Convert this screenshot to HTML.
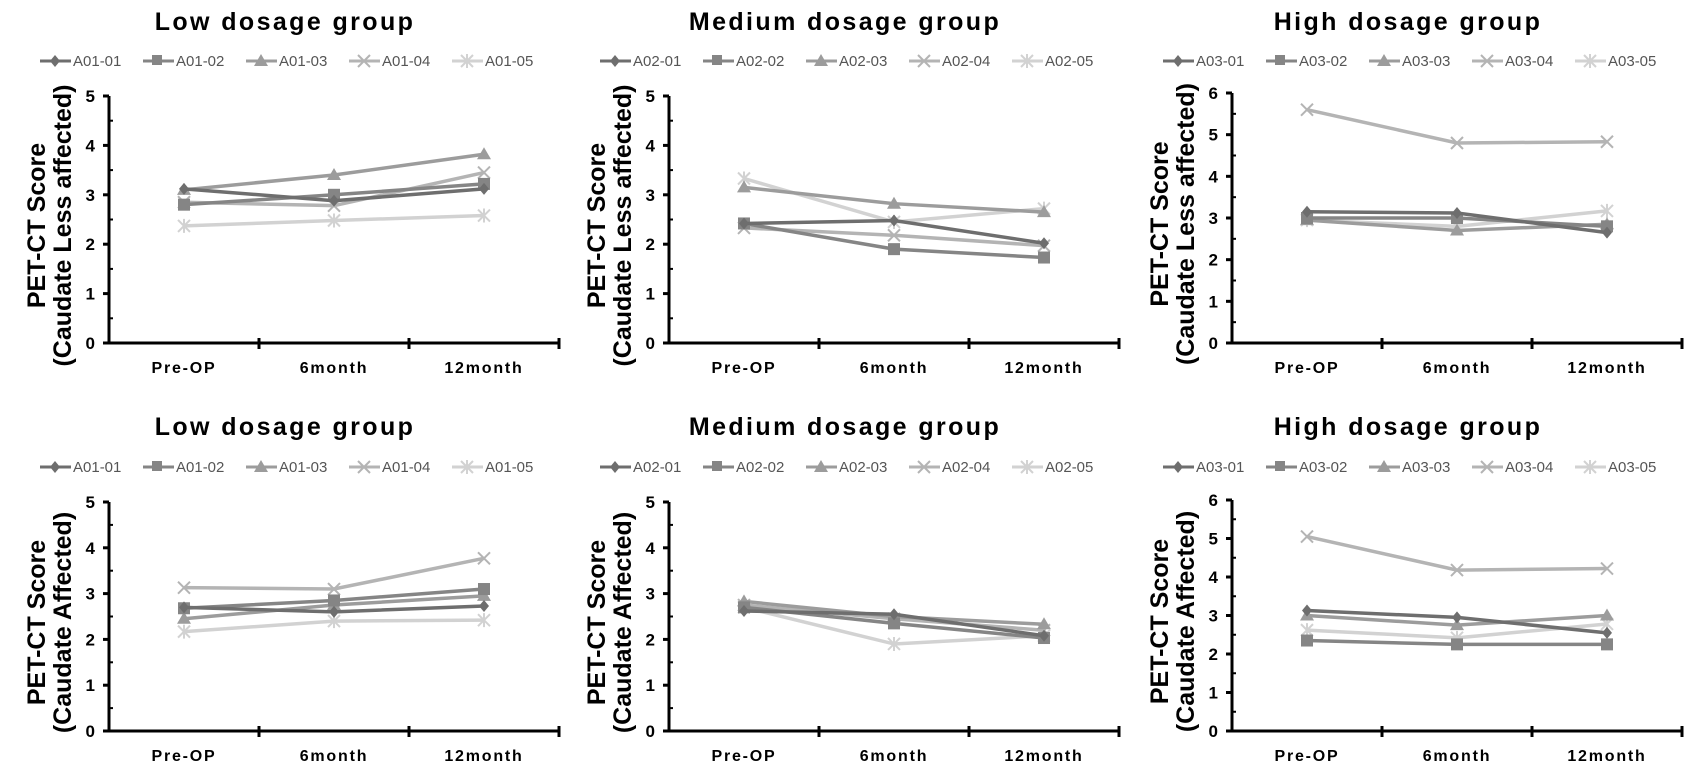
<!DOCTYPE html>
<html><head><meta charset="utf-8"><style>
html,body{margin:0;padding:0;background:#fff;}
svg{display:block;font-family:"Liberation Sans",Arial,sans-serif;}
</style></head><body>
<svg id="s" width="1691" height="781" xmlns="http://www.w3.org/2000/svg"></svg>
<script>
const cols=['#6e6e6e','#858585','#9c9c9c','#b4b4b4','#d2d2d2'];
const panels=[
 {ax:109,y0:343,ytop:96,max:5,title:'Low dosage group',pre:'A01',yl:'(Caudate Less affected)',ty:20,ly:61,
  d:[[3.12,2.88,3.12],[2.8,3.0,3.22],[3.1,3.4,3.82],[2.85,2.78,3.45],[2.37,2.48,2.58]]},
 {ax:669,y0:343,ytop:96,max:5,title:'Medium dosage group',pre:'A02',yl:'(Caudate Less affected)',ty:20,ly:61,
  d:[[2.42,2.48,2.02],[2.42,1.9,1.73],[3.15,2.82,2.65],[2.33,2.18,1.97],[3.33,2.45,2.72]]},
 {ax:1232,y0:343,ytop:93,max:6,title:'High dosage group',pre:'A03',yl:'(Caudate Less affected)',ty:20,ly:61,
  d:[[3.15,3.12,2.65],[3.0,3.0,2.8],[2.95,2.7,2.85],[5.6,4.8,4.83],[2.95,2.8,3.17]]},
 {ax:109,y0:731,ytop:502,max:5,title:'Low dosage group',pre:'A01',yl:'(Caudate Affected)',ty:425,ly:467,
  d:[[2.7,2.6,2.73],[2.68,2.85,3.1],[2.45,2.75,2.95],[3.13,3.1,3.77],[2.17,2.4,2.42]]},
 {ax:669,y0:731,ytop:502,max:5,title:'Medium dosage group',pre:'A02',yl:'(Caudate Affected)',ty:425,ly:467,
  d:[[2.62,2.55,2.08],[2.7,2.35,2.03],[2.83,2.5,2.33],[2.75,2.45,2.2],[2.7,1.9,2.08]]},
 {ax:1232,y0:731,ytop:500,max:6,title:'High dosage group',pre:'A03',yl:'(Caudate Affected)',ty:425,ly:467,
  d:[[3.13,2.95,2.55],[2.35,2.25,2.25],[3.0,2.75,3.0],[5.05,4.18,4.22],[2.62,2.42,2.78]]}
];
function marker(k,x,y,c){
 if(k==0)return `<polygon points="${x},${y-6} ${x+5},${y} ${x},${y+6} ${x-5},${y}" fill="${c}"/>`;
 if(k==1)return `<rect x="${x-6}" y="${y-6}" width="12" height="12" fill="${c}"/>`;
 if(k==2)return `<polygon points="${x},${y-7} ${x+7},${y+5} ${x-7},${y+5}" fill="${c}"/>`;
 if(k==3)return `<path d="M${x-6} ${y-6}L${x+6} ${y+6}M${x-6} ${y+6}L${x+6} ${y-6}" stroke="${c}" stroke-width="2"/>`;
 return `<path d="M${x-6} ${y-6}L${x+6} ${y+6}M${x-6} ${y+6}L${x+6} ${y-6}M${x} ${y-7}V${y+7}" stroke="${c}" stroke-width="2"/>`;
}
let h='';
for(const p of panels){
 const a=p.ax, u=(p.y0-p.ytop)/p.max;
 h+=`<text x="${a+176}" y="${p.ty+10}" font-size="25" font-weight="bold" letter-spacing="2.4" text-anchor="middle">${p.title}</text>`;
 for(let i=0;i<5;i++){
  const lx=a-69+i*103, c=cols[i];
  h+=`<line x1="${lx}" y1="${p.ly}" x2="${lx+31}" y2="${p.ly}" stroke="${c}" stroke-width="3"/>`;
  h+=marker(i,lx+15,p.ly,c).replace(/width="12" height="12"/,'width="10" height="10"');
  h+=`<text x="${lx+33}" y="${p.ly+5}" font-size="15" fill="#555">${p.pre}-0${i+1}</text>`;
 }
 h+=`<line x1="${a}" y1="${p.ytop}" x2="${a}" y2="${p.y0+1}" stroke="#000" stroke-width="3"/>`;
 h+=`<line x1="${a}" y1="${p.y0}" x2="${a+450}" y2="${p.y0}" stroke="#000" stroke-width="3"/>`;
 for(let v=0;v<=p.max;v++){
  const y=p.y0-v*u;
  h+=`<line x1="${a-6}" y1="${y}" x2="${a}" y2="${y}" stroke="#000" stroke-width="3"/>`;
  h+=`<text x="${a-14}" y="${y+6}" font-size="17" font-weight="bold" text-anchor="end">${v}</text>`;
  if(v<p.max)h+=`<line x1="${a}" y1="${y-u/2}" x2="${a+4}" y2="${y-u/2}" stroke="#000" stroke-width="2"/>`;
 }
 for(let k=1;k<=3;k++){const x=a+150*k;h+=`<line x1="${x}" y1="${p.y0-5}" x2="${x}" y2="${p.y0+6}" stroke="#000" stroke-width="3"/>`;}
 ['Pre-OP','6month','12month'].forEach((t,k)=>{h+=`<text x="${a+75+150*k}" y="${p.y0+30}" font-size="16" font-weight="bold" letter-spacing="1.8" text-anchor="middle">${t}</text>`;});
 const cy=(p.y0+p.ytop)/2+6;
 h+=`<text transform="translate(${a-64},${cy}) rotate(-90)" font-size="25" font-weight="bold" text-anchor="middle">PET-CT Score</text>`;
 h+=`<text transform="translate(${a-38},${cy}) rotate(-90)" font-size="25" font-weight="bold" text-anchor="middle">${p.yl}</text>`;
 for(let i=4;i>=0;i--){
  const pts=p.d[i].map((v,k)=>[a+75+150*k,p.y0-v*u]);
  h+=`<polyline points="${pts.map(q=>q.join(',')).join(' ')}" fill="none" stroke="${cols[i]}" stroke-width="3.5"/>`;
  pts.forEach(q=>h+=marker(i,q[0],q[1],cols[i]));
 }
}
document.getElementById('s').innerHTML=h;
</script>
</body></html>
